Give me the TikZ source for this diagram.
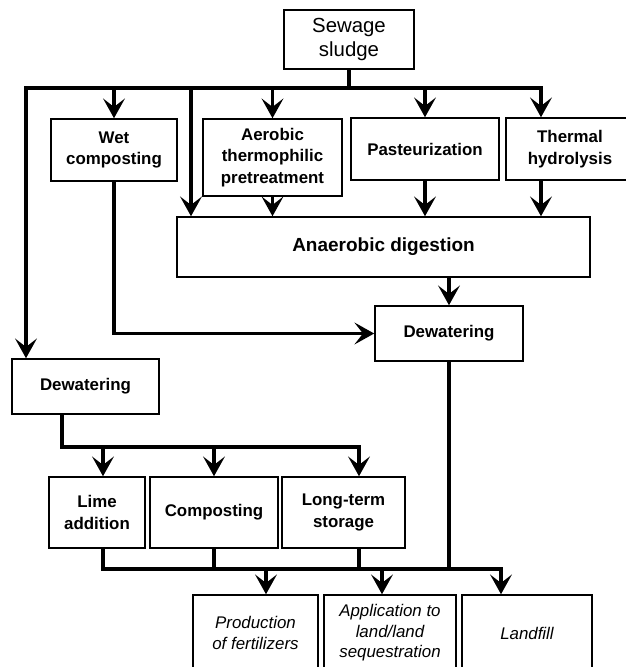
\documentclass[tikz,border=0pt]{standalone}
\usepackage{fontspec}
\setmainfont{Liberation Sans}
\usetikzlibrary{arrows.meta}
\tikzset{
  box/.style={draw, line width=1.1pt, inner sep=0pt, align=center,
    font=\bfseries\fontsize{12}{15.2}\selectfont},
  outcome/.style={box, font=\itshape\fontsize{12}{14.6}\selectfont, minimum height=1.9cm},
  conn/.style={line width=2.3pt},
  flow/.style={conn, -{Stealth[length=14pt,width=15.5pt,inset=6pt]}}
}

\begin{document}
\begin{tikzpicture}[x=0.025cm,y=-0.025cm]
\useasboundingbox (0,0) rectangle (626,667);
\node[box, font=\fontsize{14.5}{17.7}\selectfont, minimum width=3.25cm, minimum height=1.475cm] (sludge) at (349,39.5) {Sewage\\sludge};
\node[box, minimum width=3.15cm, minimum height=1.55cm] (wetcomp) at (114,150) {Wet\\composting};
\node[box, minimum width=3.475cm, minimum height=1.925cm] (aerobic) at (272.5,157.5) {Aerobic\\thermophilic\\pretreatment};
\node[box, minimum width=3.7cm, minimum height=1.55cm] (pasteur) at (425,149) {Pasteurization};
\node[box, minimum width=3.2cm, minimum height=1.55cm] (thermal) at (570,149) {Thermal\\hydrolysis};
\node[box, font=\bfseries\fontsize{13.5}{16}\selectfont, minimum width=10.325cm, minimum height=1.5cm] (anaerobic) at (383.5,247) {Anaerobic digestion};
\node[box, minimum width=3.7cm, minimum height=1.375cm] (dewR) at (449,333.5) {Dewatering};
\node[box, minimum width=3.675cm, minimum height=1.375cm] (dewL) at (85.5,386.5) {Dewatering};
\node[box, minimum width=2.4cm, minimum height=1.775cm] (lime) at (97,512.5) {Lime\\addition};
\node[box, minimum width=3.2cm, minimum height=1.775cm] (compost) at (214,512.5) {Composting};
\node[box, minimum width=3.075cm, minimum height=1.775cm] (storage) at (343.5,512.5) {Long-term\\storage};
\node[outcome, minimum width=3.125cm] (fertil) at (255.5,633) {Production\\of fertilizers};
\node[outcome, minimum width=3.3cm] (land) at (390,633) {Application to\\land/land\\sequestration};
\node[outcome, minimum width=3.25cm] (landfill) at (527,633) {Landfill};

\coordinate (top) at (349,88);
\coordinate (tl) at (26,88);
\coordinate (tr) at (541,88);
\coordinate (bypass) at (191,88);
\coordinate (ml) at (62,447);
\coordinate (mr) at (359,447);
\coordinate (bl) at (103,569);
\coordinate (br) at (501,569);
\coordinate (fa) at (266,569);
\coordinate (la) at (382,569);

\draw[conn] (sludge.south) -- (top);
\draw[flow] (top) -| (tl |- dewL.north);
\draw[flow] (top) -| (tr |- thermal.north);
\foreach \n in {wetcomp,aerobic,pasteur}
  \draw[flow] (\n |- top) -- (\n.north);
\draw[flow] (bypass) -- (bypass |- anaerobic.north);
\foreach \n in {aerobic,pasteur}
  \draw[flow] (\n.south) -- (\n |- anaerobic.north);
\draw[flow] (tr |- thermal.south) -- (tr |- anaerobic.north);
\draw[flow] (dewR |- anaerobic.south) -- (dewR.north);
\draw[flow] (wetcomp.south) |- (dewR.west);

\draw[flow] (ml |- dewL.south) |- (mr) -- (mr |- storage.north);
\draw[flow] (bl |- ml) -- (bl |- lime.north);
\draw[flow] (compost |- ml) -- (compost.north);

\draw[flow] (bl |- lime.south) |- (br) -- (br |- landfill.north);
\draw[conn] (compost.south) -- (compost |- bl);
\draw[conn] (mr |- storage.south) -- (mr |- bl);
\draw[conn] (dewR.south) -- (dewR |- bl);
\draw[flow] (fa) -- (fa |- fertil.north);
\draw[flow] (la) -- (la |- land.north);
\end{tikzpicture}
\end{document}
